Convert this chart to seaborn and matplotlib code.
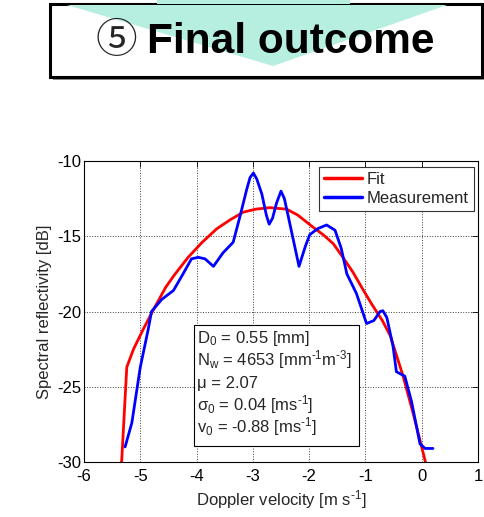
import numpy as np
import pandas as pd
import matplotlib
matplotlib.use("Agg")
import matplotlib.pyplot as plt
import seaborn as sns
from matplotlib.patches import Polygon, Rectangle

# =========================
#  Data
# =========================

fit_v = [-5.37, -5.33, -5.24, -5.12, -4.95, -4.77, -4.55, -4.40, -4.15, -3.90,
         -3.64, -3.40, -3.17, -2.95, -2.70, -2.40, -2.20, -1.93, -1.75, -1.57,
         -1.40, -1.22, -1.05, -0.89, -0.70, -0.56, -0.33, -0.15, 0.06, 0.10]
fit_z = [-31.0, -29.9, -23.7, -22.5, -21.2, -19.9, -18.4, -17.6, -16.4, -15.4,
         -14.5, -13.9, -13.4, -13.2, -13.1, -13.2, -13.6, -14.4, -14.9, -15.5,
         -16.4, -17.4, -18.5, -19.5, -20.6, -21.6, -24.3, -26.8, -29.9, -30.6]

meas_v = [-5.27, -5.15, -5.00, -4.86, -4.80, -4.62, -4.41, -4.24, -4.09, -3.97,
          -3.85, -3.70, -3.53, -3.35, -3.23, -3.11, -3.05, -2.99, -2.93, -2.84,
          -2.76, -2.71, -2.65, -2.58, -2.50, -2.44, -2.37, -2.18, -2.07, -1.99,
          -1.85, -1.69, -1.54, -1.43, -1.33, -1.16, -0.98, -0.85, -0.74, -0.69,
          -0.62, -0.51, -0.45, -0.30, -0.18, -0.03, 0.06, 0.20]
meas_z = [-29.0, -27.4, -23.7, -21.2, -20.0, -19.2, -18.6, -17.5, -16.5, -16.4,
          -16.5, -17.0, -16.1, -15.4, -13.7, -11.9, -11.1, -10.8, -11.2, -12.2,
          -13.6, -14.2, -13.8, -12.8, -12.0, -12.5, -13.7, -17.0, -15.7, -14.9,
          -14.5, -14.25, -14.6, -15.8, -17.5, -18.8, -20.8, -20.6, -20.0, -19.95,
          -20.4, -22.3, -24.0, -24.3, -26.0, -28.8, -29.1, -29.1]

params_text = ["$\\mathregular{D_0}$ = 0.55 [mm]",
               "$\\mathregular{N_w}$ = 4653 [mm$^{\\text{-1}}$m$^{\\text{-3}}$]",
               "\u03bc = 2.07",
               "\u03c3$_\\mathregular{0}$ = 0.04 [ms$^{\\text{-1}}$]",
               "$\\mathregular{v_0}$ = -0.88 [ms$^{\\text{-1}}$]"]

x_ticks = [-6, -5, -4, -3, -2, -1, 0, 1]
y_ticks = [-30, -25, -20, -15, -10]

df = pd.concat([
    pd.DataFrame({"v": fit_v, "z": fit_z, "series": "Fit"}),
    pd.DataFrame({"v": meas_v, "z": meas_z, "series": "Measurement"}),
])

# =========================
#  Figure
# =========================

sns.set_style("white")
plt.rcParams["font.family"] = ["Liberation Sans", "DejaVu Sans"]
plt.rcParams["mathtext.fontset"] = "custom"
plt.rcParams["mathtext.rm"] = "Liberation Sans"
plt.rcParams["mathtext.it"] = "Liberation Sans:italic"
plt.rcParams["axes.unicode_minus"] = False

W, H = 484, 517
fig = plt.figure(figsize=(W / 100, H / 100), dpi=100)

# header box with the green arrow behind it
hdr = fig.add_axes([0, 0, 1, 1])
hdr.set_xlim(0, W)
hdr.set_ylim(H, 0)
hdr.axis("off")
arrow_col = "#b6eee0"
hdr.add_patch(Rectangle((53, 7), 432, 73, facecolor="0.55", edgecolor="none", zorder=1))
hdr.add_patch(Rectangle((50, 4), 432, 73, facecolor="white", edgecolor="black", lw=2.2, zorder=2))
hdr.add_patch(Rectangle((157, -5), 193, 9, facecolor=arrow_col, edgecolor="none", zorder=3))
hdr.add_patch(Polygon([(67, 5), (447, 5), (273, 66)], closed=True,
                      facecolor=arrow_col, edgecolor="none", zorder=3))
hdr.text(116, 42, "\u2464", fontsize=30, ha="center", va="center",
         family=["Noto Sans CJK JP", "DejaVu Sans"], zorder=4)
hdr.text(147, 42, "Final outcome", fontsize=30.5, fontweight="bold",
         ha="left", va="center", color="black", zorder=4)

ax = fig.add_axes([84 / W, 1 - 462 / H, 394 / W, 301 / H])
sns.lineplot(data=df, x="v", y="z", hue="series", sort=False, estimator=None,
             palette={"Fit": "#ff0000", "Measurement": "#0000ff"},
             lw=2.0, ax=ax, legend=False)

ax.set_xlim(-6, 1)
ax.set_ylim(-30, -10)
ax.set_xticks(x_ticks)
ax.set_yticks(y_ticks)
ax.set_xticklabels([str(t) for t in x_ticks])
ax.set_yticklabels([str(t) for t in y_ticks])
ax.tick_params(direction="in", length=4, width=0.6, top=True, right=True,
               labelsize=12, colors="black", pad=2)
ax.tick_params(axis="x", pad=5)
ax.grid(True, ls=":", lw=0.7, color="0.25")
for s in ax.spines.values():
    s.set_color("black")
    s.set_linewidth(0.8)
ax.set_xlabel("Doppler velocity [m s$^{\\text{-1}}$]", fontsize=12, labelpad=3)
ax.set_ylabel("Spectral reflectivity [dB]", fontsize=12, labelpad=4)

ax.plot([], [], color="#ff0000", lw=2.5, label="Fit")
ax.plot([], [], color="#0000ff", lw=2.5, label="Measurement")
leg = ax.legend(loc="upper right", bbox_to_anchor=(0.99, 0.98), fontsize=12,
                fancybox=False, framealpha=1, edgecolor="0.2", handlelength=2.3,
                handletextpad=0.3, borderpad=0.3, labelspacing=0.25,
                borderaxespad=0)
leg.get_frame().set_linewidth(0.8)

# parameter box: one text per line so spacing stays even
ax.add_patch(Rectangle((-4.046, -28.94), 2.931, 8.04, facecolor="white",
                       edgecolor="black", lw=0.8, zorder=5))
for i, line in enumerate(params_text):
    ax.text(-4.0, -22.06 - i * 1.495, line, fontsize=12, ha="left",
            va="baseline", zorder=6)

fig.savefig("out.png", dpi=100)
plt.close(fig)
